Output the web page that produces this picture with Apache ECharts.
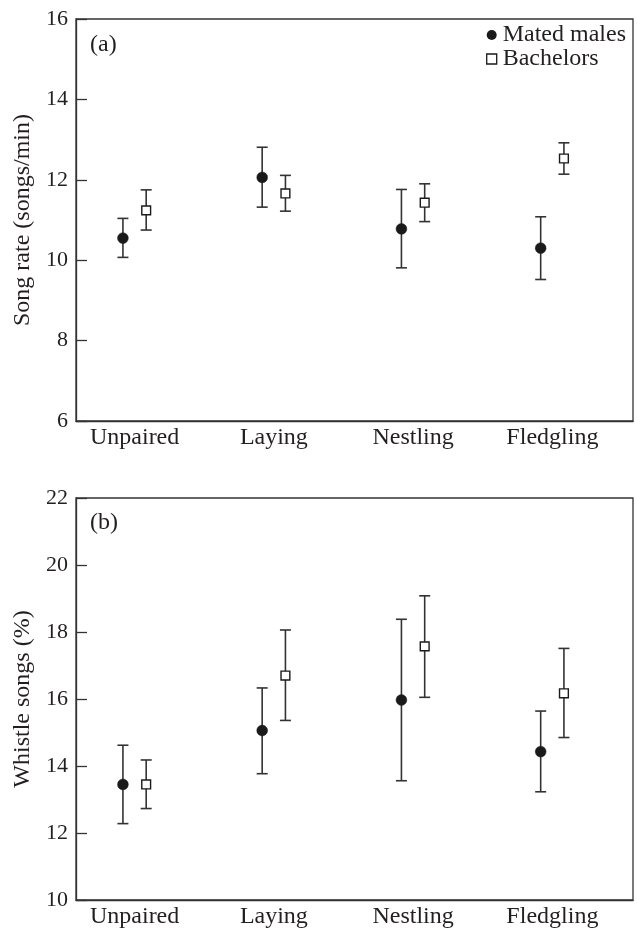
<!DOCTYPE html>
<html>
<head>
<meta charset="utf-8">
<script src="https://cdn.jsdelivr.net/npm/echarts@6/dist/echarts.min.js"></script>
<style>
html,body{margin:0;padding:0;background:#fff;}
#chart{width:637px;height:929px;}
</style>
</head>
<body>
<div id="chart"></div>
<script>
// ---- data ----
const categories = ['Unpaired', 'Laying', 'Nestling', 'Fledgling'];

const songMated      = [10.55, 12.06, 10.78, 10.30];
const songMatedLow   = [10.07, 11.32, 9.81, 9.52];
const songMatedHigh  = [11.04, 12.81, 11.76, 11.08];
const songBach       = [11.24, 11.66, 11.43, 12.53];
const songBachLow    = [10.75, 11.22, 10.96, 12.14];
const songBachHigh   = [11.75, 12.11, 11.90, 12.92];

const whistleMated     = [13.45, 15.06, 15.97, 14.43];
const whistleMatedLow  = [12.28, 13.77, 13.56, 13.23];
const whistleMatedHigh = [14.62, 16.33, 18.38, 15.64];
const whistleBach      = [13.45, 16.70, 17.57, 16.17];
const whistleBachLow   = [12.73, 15.36, 16.05, 14.85];
const whistleBachHigh  = [14.18, 18.06, 19.08, 17.51];

const songTicks = [6, 8, 10, 12, 14, 16];
const whistleTicks = [10, 12, 14, 16, 18, 20, 22];

// ---- styling ----
const FONT = '"Liberation Serif", "Times New Roman", serif';
const INK = '#231f20';
const LINE = '#333';

function rows(mean, low, high) {
  return mean.map((v, i) => [i, v, low[i], high[i]]);
}

function makeRender(offsetFrac, marker) {
  return function (params, api) {
    const idx = api.value(0);
    const band = api.size([1, 0])[0];
    const dx = offsetFrac * band;
    const pm = api.coord([idx, api.value(1)]);
    const pl = api.coord([idx, api.value(2)]);
    const ph = api.coord([idx, api.value(3)]);
    const x = pm[0] + dx;
    const cap = 5.5;
    const ls = { stroke: LINE, lineWidth: 1.6 };
    const children = [
      { type: 'line', shape: { x1: x, y1: pl[1], x2: x, y2: ph[1] }, style: ls },
      { type: 'line', shape: { x1: x - cap, y1: pl[1], x2: x + cap, y2: pl[1] }, style: ls },
      { type: 'line', shape: { x1: x - cap, y1: ph[1], x2: x + cap, y2: ph[1] }, style: ls }
    ];
    if (marker === 'circle') {
      children.push({ type: 'circle', shape: { cx: x, cy: pm[1], r: 5.4 }, style: { fill: '#1a1a1a', stroke: '#1a1a1a', lineWidth: 0.5 } });
    } else {
      children.push({ type: 'rect', shape: { x: x - 4.4, y: pm[1] - 4.4, width: 8.8, height: 8.8 }, style: { fill: '#fff', stroke: '#1a1a1a', lineWidth: 1.4 } });
    }
    return { type: 'group', children: children };
  };
}

function yAxisFor(gridIndex, name, ticks) {
  return {
    type: 'value',
    gridIndex: gridIndex,
    min: ticks[0],
    max: ticks[ticks.length - 1],
    interval: ticks[1] - ticks[0],
    name: name,
    nameLocation: 'middle',
    nameGap: 39,
    nameTextStyle: { fontFamily: FONT, fontSize: 24, color: INK },
    axisLine: { show: true, lineStyle: { color: LINE, width: 1.3 } },
    axisTick: { show: true, inside: true, length: 11, lineStyle: { color: LINE, width: 1.3 } },
    axisLabel: { fontFamily: FONT, fontSize: 22, color: INK, margin: 8 },
    splitLine: { show: false }
  };
}

function xAxisFor(gridIndex) {
  return {
    type: 'category',
    gridIndex: gridIndex,
    data: categories,
    boundaryGap: true,
    axisLine: { show: true, lineStyle: { color: LINE, width: 1.3 } },
    axisTick: { show: false },
    axisLabel: { fontFamily: FONT, fontSize: 24, color: INK, margin: 5, padding: [0, 22, 0, 0], interval: 0 },
    splitLine: { show: false }
  };
}

const gridStyle = { show: true, borderColor: LINE, borderWidth: 1.3, backgroundColor: 'transparent' };

const option = {
  animation: false,
  backgroundColor: '#fff',
  title: [
    { text: '(a)', left: 90, top: 33, padding: 0, textStyle: { fontFamily: FONT, fontSize: 24, fontWeight: 'normal', color: INK } },
    { text: '(b)', left: 90, top: 511, padding: 0, textStyle: { fontFamily: FONT, fontSize: 24, fontWeight: 'normal', color: INK } }
  ],
  legend: {
    orient: 'vertical',
    right: 11,
    top: 23,
    itemGap: 0,
    itemWidth: 10,
    itemHeight: 10,
    align: 'left',
    padding: 0,
    textStyle: { fontFamily: FONT, fontSize: 24, color: INK, padding: [0, 0, 0, 1] },
    data: [
      { name: 'Mated males', icon: 'circle', itemStyle: { color: '#1a1a1a', borderWidth: 0 } },
      { name: 'Bachelors', icon: 'rect', itemStyle: { color: '#fff', borderColor: '#1a1a1a', borderWidth: 1.3 } }
    ]
  },
  grid: [
    Object.assign({ left: 76, right: 4, top: 19, height: 402 }, gridStyle),
    Object.assign({ left: 76, right: 4, top: 498, height: 402 }, gridStyle)
  ],
  xAxis: [xAxisFor(0), xAxisFor(1)],
  yAxis: [
    yAxisFor(0, 'Song rate (songs/min)', songTicks),
    yAxisFor(1, 'Whistle songs (%)', whistleTicks)
  ],
  series: [
    { name: 'Mated males', type: 'custom', xAxisIndex: 0, yAxisIndex: 0, itemStyle: { color: '#1a1a1a' },
      renderItem: makeRender(-0.163, 'circle'), data: rows(songMated, songMatedLow, songMatedHigh), encode: { x: 0, y: [1, 2, 3] } },
    { name: 'Bachelors', type: 'custom', xAxisIndex: 0, yAxisIndex: 0, itemStyle: { color: '#fff', borderColor: '#1a1a1a' },
      renderItem: makeRender(0.004, 'square'), data: rows(songBach, songBachLow, songBachHigh), encode: { x: 0, y: [1, 2, 3] } },
    { name: 'Mated males', type: 'custom', xAxisIndex: 1, yAxisIndex: 1, itemStyle: { color: '#1a1a1a' },
      renderItem: makeRender(-0.163, 'circle'), data: rows(whistleMated, whistleMatedLow, whistleMatedHigh), encode: { x: 0, y: [1, 2, 3] } },
    { name: 'Bachelors', type: 'custom', xAxisIndex: 1, yAxisIndex: 1, itemStyle: { color: '#fff', borderColor: '#1a1a1a' },
      renderItem: makeRender(0.004, 'square'), data: rows(whistleBach, whistleBachLow, whistleBachHigh), encode: { x: 0, y: [1, 2, 3] } }
  ]
};

const chart = echarts.init(document.getElementById('chart'), null, { renderer: 'canvas' });
chart.setOption(option);
</script>
</body>
</html>
